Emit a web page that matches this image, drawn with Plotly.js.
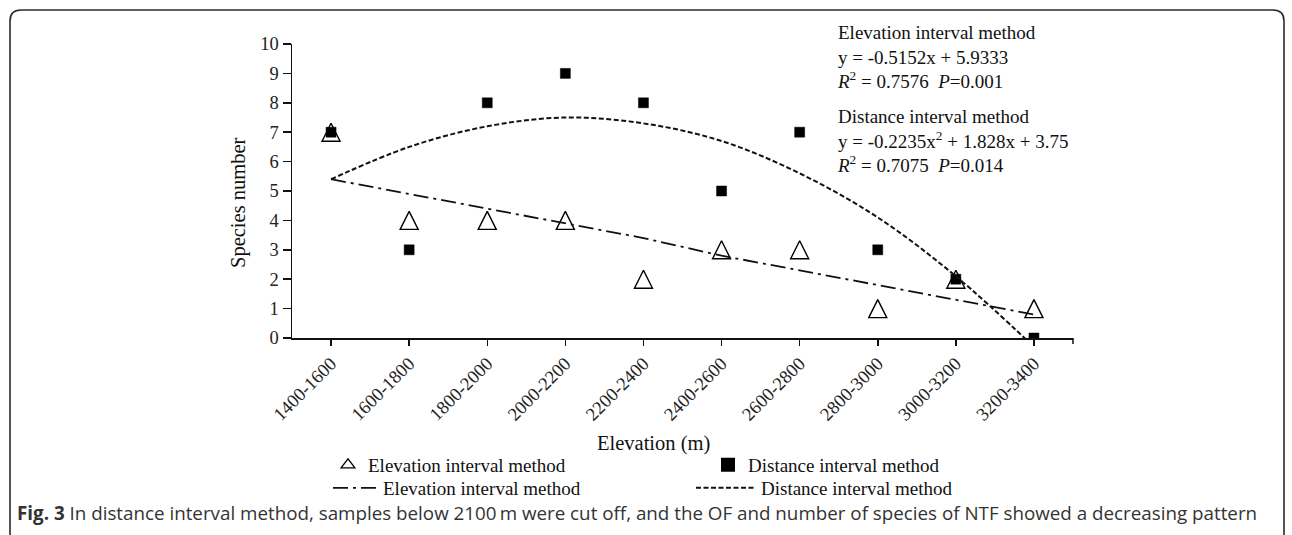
<!DOCTYPE html>
<html>
<head>
<meta charset="utf-8">
<script src="https://cdn.plot.ly/plotly-3.0.1.min.js"></script>
<style>
  html, body { margin: 0; padding: 0; background: #ffffff; }
  #chart { width: 1292px; height: 535px; }
</style>
</head>
<body>
<div id="chart"></div>
<script>
// ---- data ----
const categories = ['1400-1600', '1600-1800', '1800-2000', '2000-2200', '2200-2400',
                    '2400-2600', '2600-2800', '2800-3000', '3000-3200', '3200-3400'];
const elevationSpecies = [7, 4, 4, 4, 2, 3, 3, 1, 2, 1];   // triangles
const distanceSpecies  = [7, 3, 8, 9, 8, 5, 7, 3, 2, 0];   // squares
// fitted curves, as drawn in the figure at each category
const elevationFit = [5.4, 4.9, 4.4, 3.9, 3.4, 2.8, 2.3, 1.8, 1.3, 0.8];
const distanceFit  = [5.4, 6.5, 7.2, 7.5, 7.3, 6.7, 5.6, 4.1, 2.1, -0.3];
const seriesNames = ['Elevation interval method', 'Distance interval method'];
const yTicks = [0, 1, 2, 3, 4, 5, 6, 7, 8, 9, 10];

// ---- geometry (pixels) ----
const W = 1292, H = 535;
const L = 292, R = 1073, T = 44, B = 338;
const pw = R - L, ph = B - T;
const px = x => (x - L) / pw;
const py = y => (B - y) / ph;

const serif = 'Liberation Serif, Times New Roman, serif';
const TRI = 18;

const traces = [
  {
    type: 'scatter', mode: 'markers', x: categories, y: elevationSpecies,
    name: seriesNames[0], showlegend: false,
    marker: { symbol: 'arrow-down-open', angle: 180, standoff: TRI / 2, size: TRI,
              color: '#000', line: { color: '#111', width: 1.4 } },
    hoverinfo: 'x+y'
  },
  {
    // legend entry for the triangle series
    type: 'scatter', mode: 'markers', x: [null], y: [null],
    name: seriesNames[0], legend: 'legend',
    marker: { symbol: 'triangle-up-open', size: 12, color: '#000', line: { color: '#111', width: 1.3 } },
    hoverinfo: 'skip'
  },
  {
    type: 'scatter', mode: 'markers', x: categories, y: distanceSpecies,
    name: seriesNames[1], legend: 'legend2',
    marker: { symbol: 'square', size: 10, color: '#000', line: { color: '#000', width: 0.5 } },
    hoverinfo: 'x+y'
  },
  {
    type: 'scatter', mode: 'lines', x: categories, y: elevationFit,
    name: seriesNames[0], legend: 'legend3',
    line: { color: '#111', width: 1.8, dash: '15px,5px,3px,5px' },
    hoverinfo: 'skip'
  },
  {
    type: 'scatter', mode: 'lines', x: categories, y: distanceFit,
    name: seriesNames[1], legend: 'legend4',
    line: { color: '#111', width: 2, dash: '5px,2.5px', shape: 'spline', smoothing: 1 },
    hoverinfo: 'skip'
  }
];

const legendCommon = {
  orientation: 'h', xanchor: 'left', yanchor: 'middle',
  bgcolor: 'rgba(0,0,0,0)', borderwidth: 0,
  font: { family: serif, size: 19, color: '#111' },
  itemclick: false, itemdoubleclick: false
};

// rounded border of the figure panel
const bx0 = px(10), bx1 = px(1284), by0 = py(10), by1 = py(560);
const rx = 11 / pw, ry = 11 / ph;
const borderPath = `M${bx0},${by1} L${bx0},${by0 - ry} Q${bx0},${by0} ${bx0 + rx},${by0} ` +
                   `L${bx1 - rx},${by0} Q${bx1},${by0} ${bx1},${by0 - ry} L${bx1},${by1}`;

const layout = {
  width: W, height: H,
  margin: { l: L, r: W - R, t: T, b: H - B, autoexpand: false },
  paper_bgcolor: '#ffffff', plot_bgcolor: '#ffffff',
  font: { family: serif, color: '#111', size: 18 },
  showlegend: true,
  xaxis: {
    type: 'category', range: [-0.5, 9.5], fixedrange: true,
    showline: true, linecolor: '#111', linewidth: 1.5, showgrid: false, zeroline: false,
    ticks: 'outside', ticklen: 6, tickwidth: 1.5, tickcolor: '#111',
    tickangle: -45, tickfont: { family: serif, size: 18.5, color: '#222' }
  },
  yaxis: {
    range: [0, 10], tickvals: yTicks, fixedrange: true,
    showline: true, linecolor: '#111', linewidth: 1.5, showgrid: false, zeroline: false,
    ticks: 'outside', ticklen: 8, tickwidth: 1.5, tickcolor: '#111',
    tickfont: { family: serif, size: 18.5, color: '#222' }
  },
  legend:  Object.assign({}, legendCommon, { x: px(328), y: py(465) }),
  legend2: Object.assign({}, legendCommon, { x: px(708), y: py(465), itemsizing: 'constant' }),
  legend3: Object.assign({}, legendCommon, { x: px(328), y: py(488), itemwidth: 45 }),
  legend4: Object.assign({}, legendCommon, { x: px(691), y: py(488), itemwidth: 60 }),
  annotations: [
    { xref: 'paper', yref: 'paper', x: px(835), y: py(57), xanchor: 'left', yanchor: 'middle',
      align: 'left', showarrow: false, font: { family: serif, size: 19, color: '#111' },
      text: 'Elevation interval method<br>y = -0.5152x + 5.9333<br><i>R</i><sup>2</sup> = 0.7576\u00a0\u00a0<i>P</i>=0.001' },
    { xref: 'paper', yref: 'paper', x: px(835), y: py(141), xanchor: 'left', yanchor: 'middle',
      align: 'left', showarrow: false, font: { family: serif, size: 19, color: '#111' },
      text: 'Distance interval method<br>y = -0.2235x<sup>2</sup> + 1.828x + 3.75<br><i>R</i><sup>2</sup> = 0.7075\u00a0\u00a0<i>P</i>=0.014' },
    { xref: 'paper', yref: 'paper', x: px(653), y: py(443), xanchor: 'center', yanchor: 'middle',
      showarrow: false, font: { family: serif, size: 20.5, color: '#111' }, text: 'Elevation (m)' },
    { xref: 'paper', yref: 'paper', x: px(238), y: py(203), xanchor: 'center', yanchor: 'middle',
      textangle: -90, showarrow: false, font: { family: serif, size: 20.5, color: '#111' },
      text: 'Species number' },
    { xref: 'paper', yref: 'paper', x: px(15), y: py(513), xanchor: 'left', yanchor: 'middle',
      showarrow: false, align: 'left', font: { family: 'Open Sans, Noto Sans, sans-serif', size: 18.8, color: '#333' },
      text: '<b>Fig. 3</b> In distance interval method, samples below 2100\u2009m were cut off, and the OF and number of species of NTF showed a decreasing pattern' }
  ],
  shapes: [
    { type: 'path', xref: 'paper', yref: 'paper', path: borderPath,
      line: { color: '#2a2a2a', width: 1.6 }, layer: 'above' },
    { type: 'line', xref: 'paper', yref: 'paper', x0: 1, x1: 1, y0: 0, y1: -6 / ph,
      line: { color: '#111', width: 1.5 } }
  ]
};

Plotly.newPlot('chart', traces, layout, { displayModeBar: false, staticPlot: true });
</script>
</body>
</html>
